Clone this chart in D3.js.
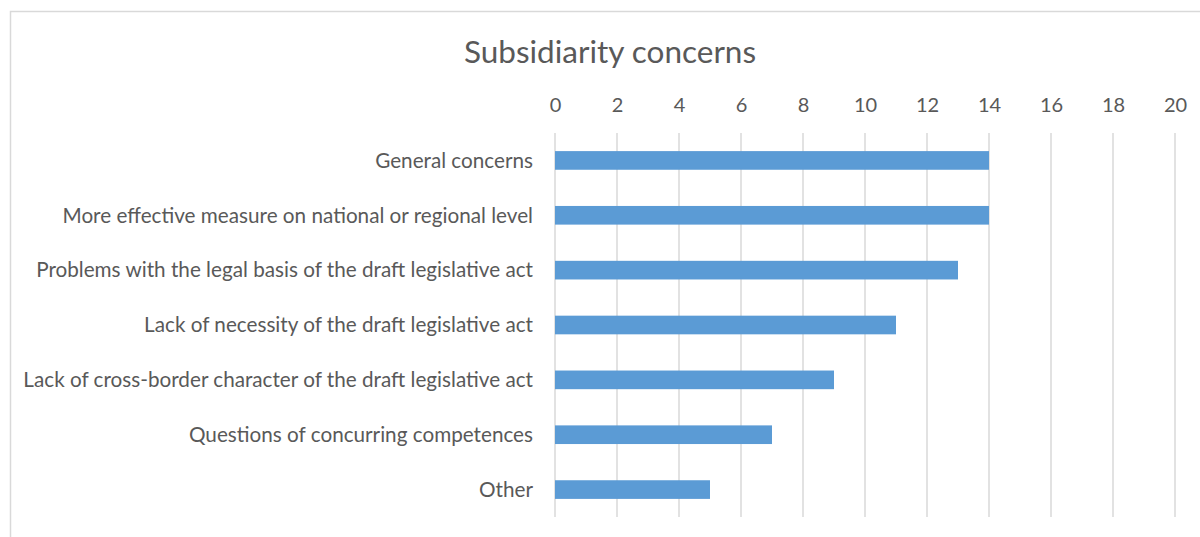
<!DOCTYPE html>
<html>
<head>
<meta charset="utf-8">
<script src="https://cdn.jsdelivr.net/npm/d3@7"></script>
<style>
  html, body { margin: 0; padding: 0; background: #fff; }
  svg { display: block; }
</style>
</head>
<body>
<svg id="chart" width="1200" height="537"></svg>
<script>
// Subsidiarity concern categories and counts
const categories = [
  "General concerns",
  "More effective measure on national or regional level",
  "Problems with the legal basis of the draft legislative act",
  "Lack of necessity of the draft legislative act",
  "Lack of cross-border character of the draft legislative act",
  "Questions of concurring competences",
  "Other"
];
const counts = [14, 14, 13, 11, 9, 7, 5];
const tickValues = [0, 2, 4, 6, 8, 10, 12, 14, 16, 18, 20];
const chartTitle = "Subsidiarity concerns";

const svg = d3.select("#chart");
const textColor = "#595959";
const font = "Lato, 'Open Sans', sans-serif";

// chart frame
svg.append("rect")
  .attr("x", 10.5).attr("y", 11.5)
  .attr("width", 1200).attr("height", 600)
  .attr("fill", "#fff")
  .attr("stroke", "#d9d9d9")
  .attr("stroke-width", 1.5);

const plot = { left: 555, right: 1175, top: 133, bottom: 517 };

const x = d3.scaleLinear().domain([0, 20]).range([plot.left, plot.right]);
const y = d3.scaleBand().domain(categories).range([plot.top, plot.bottom])
  .paddingInner(0.66).paddingOuter(0.33);

// vertical gridlines
svg.append("g")
  .selectAll("line")
  .data(tickValues)
  .join("line")
  .attr("x1", d => x(d)).attr("x2", d => x(d))
  .attr("y1", plot.top).attr("y2", plot.bottom)
  .attr("stroke", "#d9d9d9")
  .attr("stroke-width", 1.5);

// top axis tick labels
const axisTop = d3.axisTop(x).tickValues(tickValues).tickSize(0).tickPadding(0);
const ax = svg.append("g")
  .attr("transform", `translate(0, 112)`)
  .call(axisTop);
ax.select(".domain").remove();
ax.selectAll("text")
  .attr("fill", textColor)
  .style("font-family", font)
  .style("font-size", "20px");

// bars
svg.append("g")
  .selectAll("rect")
  .data(counts)
  .join("rect")
  .attr("x", x(0))
  .attr("y", (d, i) => y(categories[i]))
  .attr("width", d => x(d) - x(0))
  .attr("height", y.bandwidth())
  .attr("fill", "#5b9bd5");

// category labels
svg.append("g")
  .selectAll("text")
  .data(categories)
  .join("text")
  .attr("x", plot.left - 22)
  .attr("y", d => y(d) + y.bandwidth() / 2)
  .attr("dy", "0.35em")
  .attr("text-anchor", "end")
  .attr("fill", textColor)
  .style("font-family", font)
  .style("font-size", "20.7px")
  .text(d => d);

// title
svg.append("text")
  .attr("x", 610)
  .attr("y", 63)
  .attr("text-anchor", "middle")
  .attr("fill", textColor)
  .style("font-family", font)
  .style("font-size", "31.5px")
  .text(chartTitle);
</script>
</body>
</html>
